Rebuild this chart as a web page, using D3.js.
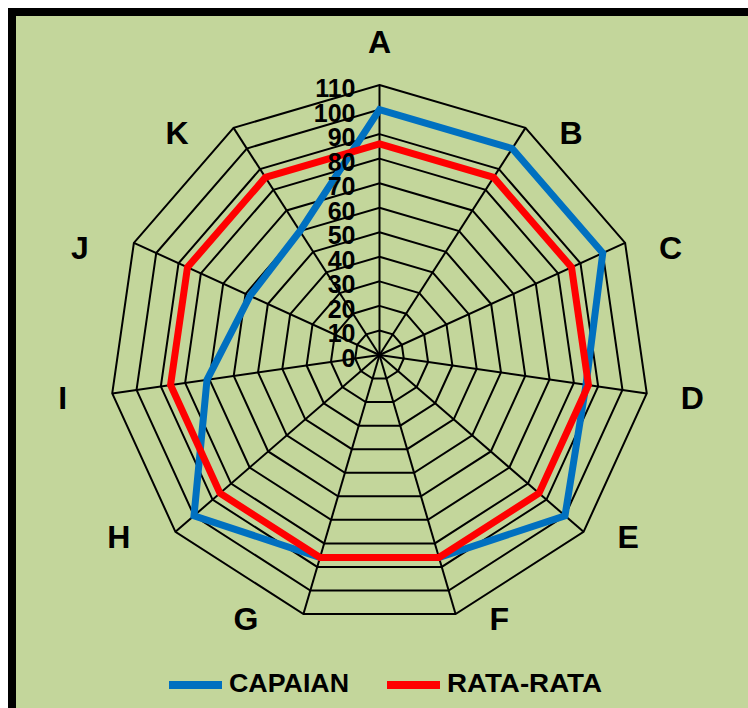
<!DOCTYPE html>
<html>
<head>
<meta charset="utf-8">
<script src="https://cdn.jsdelivr.net/npm/d3@7"></script>
<style>
  body { margin: 0; background: #fff; }
  svg { display: block; font-family: "Liberation Sans", Arial, sans-serif; }
</style>
</head>
<body>
<svg id="chart" width="748" height="708"></svg>
<script>
// data
var categories = ['A', 'B', 'C', 'D', 'E', 'F', 'G', 'H', 'I', 'J', 'K'];
var capaian = [100, 100, 100, 85, 100, 86, 86, 100, 71, 58, 60];
var rataRata = [86, 86, 86, 86, 86, 86, 86, 86, 86, 86, 86];
var ticks = [0, 10, 20, 30, 40, 50, 60, 70, 80, 90, 100, 110];
var seriesNames = ['CAPAIAN', 'RATA-RATA'];
var seriesColors = ['#0070C0', '#FF0000'];

var svg = d3.select('#chart');
var cx = 379.5, cy = 355;

// frame
svg.append('rect')
  .attr('x', 12).attr('y', 12)
  .attr('width', 800).attr('height', 800)
  .style('fill', '#C3D69B')
  .attr('stroke', '#000')
  .attr('stroke-width', 8);

var r = d3.scaleLinear().domain([0, 110]).range([0, 270]);
var angle = d3.scaleLinear().domain([0, categories.length]).range([0, 2 * Math.PI]);

var g = svg.append('g').attr('transform', 'translate(' + cx + ',' + cy + ')');

function pt(i, v) {
  var a = angle(i);
  return [Math.sin(a) * r(v), -Math.cos(a) * r(v)];
}

// rings
ticks.slice(1).forEach(function(t) {
  g.append('path')
    .attr('d', d3.lineRadial()
      .angle(function(d, i) { return angle(i); })
      .radius(r(t))
      .curve(d3.curveLinearClosed)(categories))
    .style('fill', 'none')
    .attr('stroke', '#000')
    .attr('stroke-width', 2);
});

// spokes
g.selectAll('line.spoke')
  .data(categories)
  .enter()
  .append('line')
  .attr('class', 'spoke')
  .attr('x1', 0).attr('y1', 0)
  .attr('x2', function(d, i) { return pt(i, 110)[0]; })
  .attr('y2', function(d, i) { return pt(i, 110)[1]; })
  .attr('stroke', '#000')
  .attr('stroke-width', 2);

// series
[capaian, rataRata].forEach(function(vals, k) {
  g.append('path')
    .attr('d', d3.lineRadial()
      .angle(function(d, i) { return angle(i); })
      .radius(function(d) { return r(d); })
      .curve(d3.curveLinearClosed)(vals))
    .style('fill', 'none')
    .attr('stroke', seriesColors[k])
    .attr('stroke-width', 7)
    .attr('stroke-linejoin', 'miter');
});

// tick labels
g.selectAll('text.tick')
  .data(ticks)
  .enter()
  .append('text')
  .attr('class', 'tick')
  .attr('x', -24)
  .attr('y', function(d) { return -r(d) + 12; })
  .style('text-anchor', 'end')
  .style('font-size', '25px')
  .style('font-weight', 'bold')
  .text(function(d) { return d; });

// category labels
g.selectAll('text.cat')
  .data(categories)
  .enter()
  .append('text')
  .attr('class', 'cat')
  .attr('x', function(d, i) {
    var p = pt(i, 110);
    if (i === 0) return p[0];
    return p[0] > 0 ? p[0] + 34 : p[0] - 45;
  })
  .attr('y', function(d, i) {
    var p = pt(i, 110);
    if (i === 0) return p[1] - 43 + 11;
    return p[1] + 5 + 11;
  })
  .style('text-anchor', function(d, i) {
    if (i === 0) return 'middle';
    return pt(i, 110)[0] > 0 ? 'start' : 'end';
  })
  .style('font-size', '32px')
  .style('font-weight', 'bold')
  .text(function(d) { return d; });

// legend
var legendX = [169, 387];
var legendTextW = [120, 155];
var leg = svg.selectAll('g.legend')
  .data(seriesNames)
  .enter()
  .append('g')
  .attr('class', 'legend')
  .attr('transform', function(d, i) { return 'translate(' + legendX[i] + ',685)'; });
leg.append('line')
  .attr('x1', 0).attr('x2', 53)
  .attr('y1', 0).attr('y2', 0)
  .attr('stroke', function(d, i) { return seriesColors[i]; })
  .attr('stroke-width', 8);
leg.append('text')
  .attr('x', 60)
  .attr('y', 7)
  .attr('textLength', function(d, i) { return legendTextW[i]; })
  .attr('lengthAdjust', 'spacingAndGlyphs')
  .style('font-size', '26px')
  .style('font-weight', 'bold')
  .text(function(d) { return d; });
</script>
</body>
</html>
